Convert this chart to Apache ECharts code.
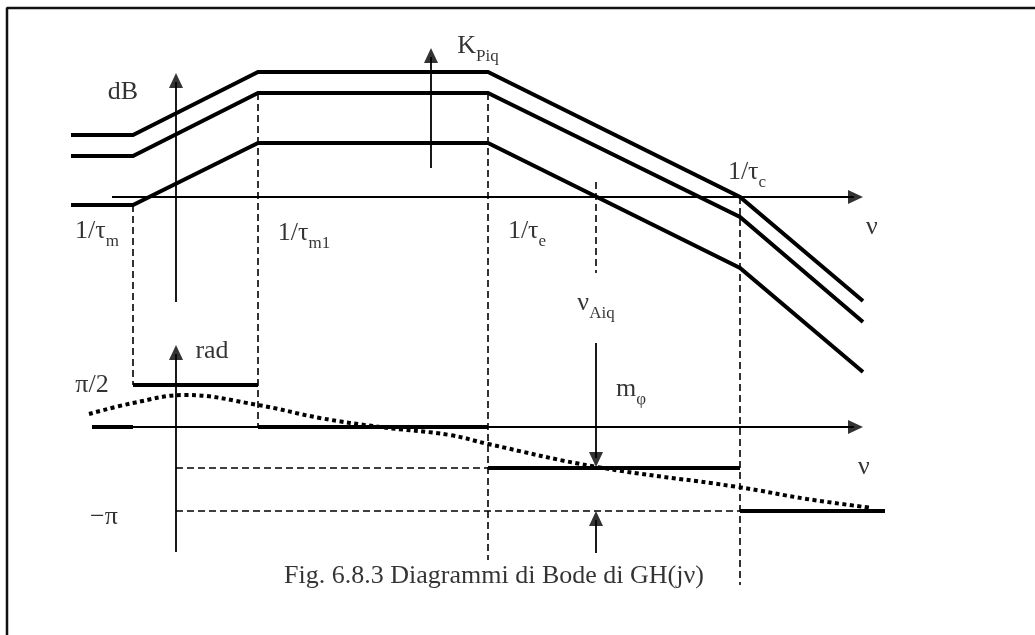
<!DOCTYPE html>
<html>
<head>
<meta charset="utf-8">
<script src="https://cdn.jsdelivr.net/npm/echarts@6/dist/echarts.min.js"></script>
<style>html,body{margin:0;padding:0;background:#fff}#c{width:1035px;height:635px}</style>
</head>
<body>
<div id="c"></div>
<script>
// Diagram coordinates: x = frequency position (log scale sketch), y = level (downwards)
// Magnitude asymptotes (three gains K_Piq)
const magX    = [71, 133, 258, 488, 740, 863];
const magHigh = [135, 135, 72, 72, 197, 301];
const magMid  = [156, 156, 93, 93, 217, 322];
const magLow  = [205, 205, 143, 143, 268, 372];

// Phase asymptote steps
const phaseStepX0 = [92, 133, 258, 488, 740];
const phaseStepX1 = [133, 258, 488, 740, 885];
const phaseStepY  = [427, 385, 427, 468, 511];

// Actual phase (dotted)
const phaseCurveX = [89, 133, 185, 258, 320, 380, 450, 488, 597, 738, 807, 872];
const phaseCurveY = [414, 403, 395, 405, 418, 427, 435, 444, 467, 487, 499, 508];

// Dashed construction lines
const dashVX   = [133, 258, 488, 596, 740];
const dashVTop = [205, 93, 93, 182, 197];
const dashVBot = [385, 427, 560, 273, 585];
const dashHY   = [468, 511];
const dashHX0  = [176, 176];
const dashHX1  = [488, 740];

// Axes and arrows
const arrowX0 = [112, 176, 431, 92, 176, 596, 596];
const arrowY0 = [197, 302, 168, 427, 552, 343, 553];
const arrowX1 = [863, 176, 431, 863, 176, 596, 596];
const arrowY1 = [197, 73, 48, 427, 345, 467, 511];

// Labels
const labelText = ['{m|dB}', '{m|K}{s|Piq}', '{m|1/τ}{s|m}', '{m|1/τ}{s|m1}', '{m|1/τ}{s|e}', '{m|1/τ}{s|c}', '{m|ν}',
                   '{m|ν}{s|Aiq}', '{m|rad}', '{m|π/2}', '{m|m}{s|φ}', '{m|ν}', '{m|−π}', '{m|Fig. 6.8.3 Diagrammi di Bode di GH(jν)}'];
const labelX = [123, 478, 97, 304, 527, 747, 872, 596, 212, 92, 631, 864, 104, 494];
const labelY = [90, 44, 229, 231, 229, 170, 225, 301, 349, 383, 387, 465, 515, 574];

const FONT = 'Liberation Serif';
const series = [];
const thick = {color:'#000', width:4, cap:'butt', join:'miter'};
const thin = {color:'#000', width:1.8, cap:'butt'};
const dashed = {color:'#000', width:1.6, type:[7,4], cap:'butt'};
const dotted = {color:'#000', width:4, type:[4,3.5], cap:'butt'};

function addLine(pts, style, smooth){
  series.push({type:'line', data:pts, symbol:'none', smooth: smooth||false, lineStyle:style, silent:true, animation:false, z:2});
}
// frame (left and top edges)
addLine([[7,635],[7,8],[1035,8]], {color:'#111', width:2.5});

[magHigh, magMid, magLow].forEach(arr => addLine(magX.map((x,i)=>[x,arr[i]]), thick));
phaseStepY.forEach((y,i)=> addLine([[phaseStepX0[i],y],[phaseStepX1[i],y]], thick));
addLine(phaseCurveX.map((x,i)=>[x,phaseCurveY[i]]), dotted, 0.4);
dashVX.forEach((x,i)=> addLine([[x,dashVTop[i]],[x,dashVBot[i]]], dashed));
dashHY.forEach((y,i)=> addLine([[dashHX0[i],y],[dashHX1[i],y]], dashed));

const heads = [];
arrowX0.forEach((x0,i)=>{
  const x1 = arrowX1[i], y1 = arrowY1[i], y0 = arrowY0[i];
  const dx = x1-x0, dy = y1-y0, L = Math.hypot(dx,dy), ux = dx/L, uy = dy/L;
  const h = 15;
  addLine([[x0,y0],[x1-ux*h*0.6,y1-uy*h*0.6]], thin);
  const rot = -Math.atan2(dx,-dy)*180/Math.PI;
  heads.push({value:[x1,y1], symbolRotate:rot, symbolOffset:[-ux*h/2, -uy*h/2]});
});
series.push({type:'scatter', data:heads, symbol:'triangle', symbolSize:[14,15], itemStyle:{color:'#000'}, silent:true, animation:false, z:3});

series.push({type:'scatter', symbolSize:1, itemStyle:{color:'transparent'}, silent:true, animation:false, z:4,
  data: labelText.map((t,i)=>({value:[labelX[i],labelY[i]], label:{formatter:t}})),
  label:{show:true, position:'inside', align:'center', verticalAlign:'middle', color:'#000',
    rich:{
      m:{fontFamily:FONT, fontSize:26, color:'#000', lineHeight:30, verticalAlign:'bottom'},
      s:{fontFamily:FONT, fontSize:17, color:'#000', lineHeight:20, verticalAlign:'bottom', padding:[0,0,-6,0]}
    }}
});

const chart = echarts.init(document.getElementById('c'), null, {renderer:'canvas'});
chart.setOption({
  animation:false,
  backgroundColor:'#fff',
  grid:{left:0, right:0, top:0, bottom:0},
  xAxis:{type:'value', min:0, max:1035, show:false},
  yAxis:{type:'value', min:0, max:635, inverse:true, show:false},
  series
});
</script>
</body>
</html>
